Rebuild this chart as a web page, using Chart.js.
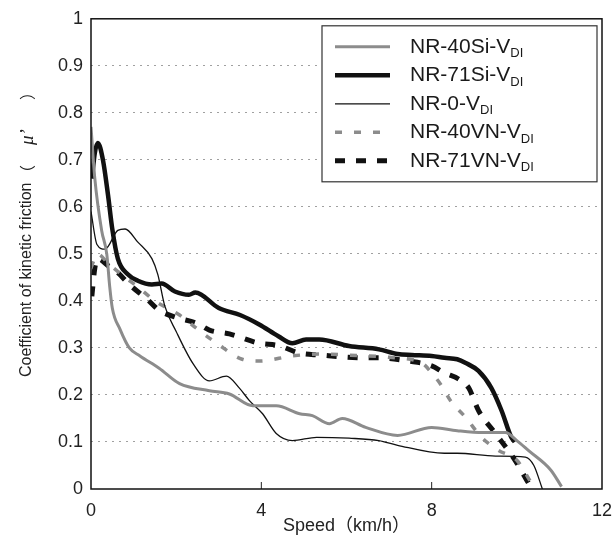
<!DOCTYPE html>
<html>
<head>
<meta charset="utf-8">
<script src="https://cdn.jsdelivr.net/npm/chart.js@4.4.0/dist/chart.umd.min.js"></script>
<style>
  body { margin: 0; background: #fff; }
</style>
</head>
<body>
<canvas id="chart" width="616" height="539"></canvas>
<script>
// series: [speed km/h, coefficient]
const nr40Si = [[0,0.77],[0.09,0.66],[0.25,0.55],[0.37,0.5],[0.44,0.43],[0.5,0.385],[0.68,0.34],[0.9,0.3],[1.15,0.283],[1.6,0.257],[2.08,0.224],[2.78,0.209],[3.25,0.202],[3.8,0.177],[4.35,0.177],[4.9,0.16],[5.2,0.156],[5.6,0.139],[5.9,0.15],[6.45,0.131],[7.2,0.114],[8.0,0.131],[8.6,0.124],[9.2,0.12],[9.73,0.12],[10.0,0.103],[10.27,0.082],[10.8,0.04],[11.05,0.005]];
const nr71Si = [[0.02,0.66],[0.09,0.715],[0.16,0.736],[0.28,0.7],[0.4,0.625],[0.5,0.553],[0.63,0.49],[0.87,0.456],[1.1,0.443],[1.43,0.435],[1.66,0.437],[1.97,0.42],[2.3,0.413],[2.45,0.418],[3.0,0.385],[3.5,0.37],[3.95,0.35],[4.4,0.325],[4.73,0.31],[5.05,0.318],[5.36,0.318],[6.06,0.304],[6.76,0.297],[7.2,0.287],[7.53,0.285],[8.0,0.283],[8.3,0.279],[8.6,0.276],[8.8,0.268],[9.1,0.251],[9.4,0.215],[9.64,0.167],[9.87,0.11],[9.95,0.1]];
const nr0 = [[0,0.59],[0.14,0.52],[0.33,0.51],[0.63,0.55],[0.8,0.553],[1.1,0.525],[1.43,0.49],[1.57,0.456],[1.73,0.39],[2.0,0.335],[2.4,0.266],[2.78,0.23],[3.18,0.24],[3.48,0.215],[3.72,0.188],[4.03,0.16],[4.35,0.118],[4.73,0.103],[5.3,0.11],[6.06,0.108],[6.76,0.103],[7.2,0.093],[8.3,0.076],[8.6,0.076],[9.5,0.07],[10.2,0.068],[10.4,0.05],[10.6,0]];
const nr40VN = [[0,0.47],[0.15,0.5],[0.4,0.48],[0.8,0.45],[1.1,0.43],[1.5,0.4],[2.08,0.37],[2.5,0.34],[2.95,0.31],[3.55,0.276],[3.95,0.272],[4.73,0.283],[5.36,0.287],[6.0,0.285],[7.0,0.28],[7.77,0.268],[8.0,0.247],[8.23,0.22],[8.44,0.188],[8.8,0.152],[9.17,0.11],[9.57,0.082],[10.0,0.061],[10.34,0.013]];
const nr71VN = [[0.02,0.41],[0.09,0.47],[0.16,0.49],[0.4,0.475],[0.63,0.46],[0.9,0.435],[1.3,0.405],[1.6,0.38],[2.0,0.365],[2.5,0.352],[2.78,0.338],[3.25,0.33],[3.95,0.31],[4.4,0.305],[4.9,0.289],[5.36,0.285],[6.45,0.279],[6.76,0.279],[7.46,0.272],[8.0,0.262],[8.3,0.247],[8.63,0.234],[8.87,0.215],[9.1,0.167],[9.5,0.118],[9.96,0.061],[10.27,0.013]];

const seriesNames = ["NR-40Si-V", "NR-71Si-V", "NR-0-V", "NR-40VN-V", "NR-71VN-V"];
const seriesSub = "DI";
const xTicks = [0, 4, 8, 12];
const yTitle = ["Coefficient of kinetic friction", "（", "μ’", "）"];

const black = "#111";
const gray = "#8c8c8c";
const styles = [
  { color: gray, width: 3, dash: [] },
  { color: black, width: 4.5, dash: [] },
  { color: black, width: 1.3, dash: [] },
  { color: gray, width: 3.5, dash: [7, 12] },
  { color: black, width: 5, dash: [10, 11] }
];

const toPts = arr => arr.map(p => ({ x: p[0], y: p[1] }));
const allSeries = [nr40Si, nr71Si, nr0, nr40VN, nr71VN];

const datasets = allSeries.map((s, i) => ({
  label: seriesNames[i] + seriesSub,
  data: toPts(s),
  borderColor: styles[i].color,
  borderWidth: styles[i].width,
  borderDash: styles[i].dash,
  pointRadius: 0,
  cubicInterpolationMode: "monotone",
  fill: false
}));

const frameAndLegend = {
  id: "frameAndLegend",
  afterDatasetsDraw(chart) {
    const { ctx, chartArea: a, scales } = chart;
    ctx.save();
    // inward x ticks
    ctx.strokeStyle = "#222";
    ctx.lineWidth = 1;
    [4, 8].forEach(v => {
      const px = scales.x.getPixelForValue(v);
      ctx.beginPath();
      ctx.moveTo(px, a.bottom);
      ctx.lineTo(px, a.bottom - 7);
      ctx.stroke();
    });
    // frame
    ctx.lineWidth = 1.5;
    ctx.strokeStyle = "#111";
    ctx.strokeRect(a.left, a.top, a.right - a.left, a.bottom - a.top);

    // y title, spaced like the original
    ctx.save();
    ctx.translate(27, a.bottom - 112);
    ctx.rotate(-Math.PI / 2);
    ctx.fillStyle = "#222";
    ctx.textBaseline = "middle";
    ctx.textAlign = "left";
    ctx.font = "16px 'Liberation Sans', Arial, sans-serif";
    ctx.fillText(yTitle[0], 0, 0);
    ctx.font = "16px 'Noto Sans CJK JP', sans-serif";
    ctx.fillText(yTitle[1], 196, 0);
    ctx.font = "italic 19px 'Liberation Serif', serif";
    ctx.fillText(yTitle[2], 232, 1);
    ctx.font = "16px 'Noto Sans CJK JP', sans-serif";
    ctx.fillText(yTitle[3], 277, 0);
    ctx.restore();

    // legend
    const bx = a.right - 280, by = a.top + 7, bw = 275, bh = 156;
    ctx.fillStyle = "#fff";
    ctx.fillRect(bx, by, bw, bh);
    ctx.lineWidth = 1.2;
    ctx.strokeStyle = "#333";
    ctx.strokeRect(bx, by, bw, bh);
    seriesNames.forEach((name, i) => {
      const y = by + 21 + i * 28.5;
      const st = styles[i];
      ctx.beginPath();
      ctx.setLineDash(st.dash);
      ctx.lineWidth = st.width;
      ctx.strokeStyle = st.color;
      ctx.moveTo(bx + 13, y);
      ctx.lineTo(bx + 68, y);
      ctx.stroke();
      ctx.setLineDash([]);
      ctx.fillStyle = "#1a1a1a";
      ctx.textBaseline = "middle";
      ctx.textAlign = "left";
      ctx.font = "21px 'Liberation Sans', Arial, sans-serif";
      ctx.fillText(name, bx + 88, y);
      const w = ctx.measureText(name).width;
      ctx.font = "13px 'Liberation Sans', Arial, sans-serif";
      ctx.fillText(seriesSub, bx + 88 + w, y + 7);
    });
    ctx.restore();
  }
};

new Chart(document.getElementById("chart"), {
  type: "line",
  data: { datasets },
  options: {
    responsive: false,
    animation: false,
    layout: { padding: { top: 15, right: 14, left: 0, bottom: 0 } },
    plugins: { legend: { display: false }, tooltip: { enabled: false } },
    scales: {
      x: {
        type: "linear",
        min: 0,
        max: 12,
        afterBuildTicks: s => { s.ticks = xTicks.map(v => ({ value: v })); },
        ticks: { color: "#222", font: { size: 18, family: "'Liberation Sans', Arial" }, padding: 3, maxRotation: 0 },
        grid: { display: false },
        border: { display: false },
        title: {
          display: true,
          text: "Speed（km/h）",
          color: "#222",
          font: { size: 18, family: "'Liberation Sans', 'Noto Sans CJK JP', Arial" },
          padding: { top: 0, bottom: 2 }
        },
        afterFit: s => { s.height = 50; }
      },
      y: {
        min: 0,
        max: 1,
        ticks: {
          stepSize: 0.1,
          color: "#222",
          font: { size: 18, family: "'Liberation Sans', Arial" },
          padding: 8,
          callback: v => String(Number(v.toFixed(1)))
        },
        grid: {
          drawTicks: false,
          color: c => (c.tick.value <= 0.001 || c.tick.value >= 0.999) ? "rgba(0,0,0,0)" : "#a0a0a0",
          lineWidth: 1
        },
        border: { display: false, dash: [2, 5] },
        title: { display: false },
        afterFit: s => { s.width = 91; }
      }
    }
  },
  plugins: [frameAndLegend]
});
</script>
</body>
</html>
